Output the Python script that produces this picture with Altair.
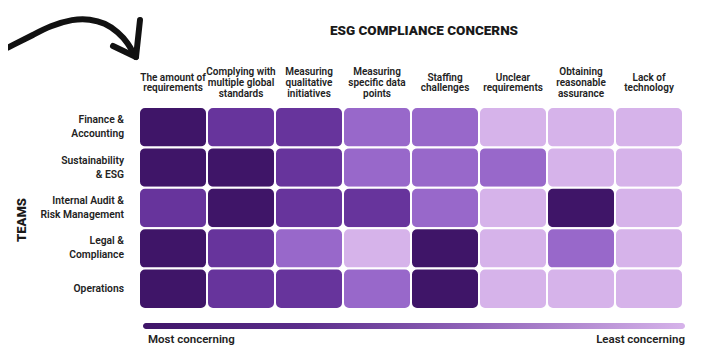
import altair as alt
import pandas as pd

title_text = "ESG COMPLIANCE CONCERNS"
axis_title = "TEAMS"
legend_low = "Most concerning"
legend_high = "Least concerning"

concerns = [
    "The amount of\nrequirements",
    "Complying with\nmultiple global\nstandards",
    "Measuring\nqualitative\ninitiatives",
    "Measuring\nspecific data\npoints",
    "Staffing\nchallenges",
    "Unclear\nrequirements",
    "Obtaining\nreasonable\nassurance",
    "Lack of\ntechnology",
]
teams = [
    "Finance &\nAccounting",
    "Sustainability\n& ESG",
    "Internal Audit &\nRisk Management",
    "Legal &\nCompliance",
    "Operations",
]
# 1 = most concerning ... 4 = least concerning
finance = [1, 2, 2, 3, 3, 4, 4, 4]
sustainability = [1, 1, 2, 3, 3, 3, 4, 4]
internal_audit = [2, 1, 2, 2, 3, 4, 1, 4]
legal = [1, 2, 3, 4, 1, 4, 3, 4]
operations = [1, 2, 2, 3, 1, 4, 4, 4]
level_values = [1, 2, 3, 4]
level_colors = ["#3f1568", "#67349c", "#9868ca", "#d6b3ea"]

# decorative hand-drawn arrow (pixel path, relative to plot origin)
arrow_x = [-150, -124, -106, -89, -66, -49, -34, -21, -11, -4]
arrow_y = [-50, -63, -72, -81, -88, -88, -84, -75, -64, -51]
arrow_head_x = [1, -3, -26, -3]
arrow_head_y = [-87, -50, -61, -50]

rows = [finance, sustainability, internal_audit, legal, operations]
cells = pd.DataFrame(
    [{"team": t, "concern": c, "level": v}
     for t, r in zip(teams, rows) for c, v in zip(concerns, r)]
)

W, H = 544, 202
txt = "#222222"
font = "Roboto"

heat = alt.Chart(cells).mark_rect(cornerRadius=6, stroke="white", strokeWidth=2).encode(
    x=alt.X("concern:N", sort=concerns, axis=None,
            scale=alt.Scale(paddingInner=0, paddingOuter=0)),
    y=alt.Y("team:N", sort=teams, axis=None,
            scale=alt.Scale(paddingInner=0, paddingOuter=0)),
    color=alt.Color("level:O", scale=alt.Scale(domain=level_values, range=level_colors), legend=None),
)

col_df = pd.DataFrame({"concern": concerns, "n": [c.count("\n") + 1 for c in concerns]})
row_df = pd.DataFrame({"team": teams, "n": [t.count("\n") + 1 for t in teams]})


def col_layer(n, lh=10.8):
    return alt.Chart(col_df).transform_filter(alt.datum.n == n).mark_text(
        align="center", baseline="middle", lineBreak="\n", font=font, fontSize=10,
        fontWeight=600, lineHeight=lh, color=txt, dy=-(n - 1) * lh / 2
    ).encode(
        x=alt.X("concern:N", sort=concerns, axis=None),
        y=alt.value(-24),
        text="concern:N",
    )


def row_layer(n, lh=14):
    return alt.Chart(row_df).transform_filter(alt.datum.n == n).mark_text(
        align="right", baseline="middle", lineBreak="\n", font=font, fontSize=10.3,
        fontWeight=600, lineHeight=lh, color=txt, dy=-(n - 1) * lh / 2
    ).encode(
        y=alt.Y("team:N", sort=teams, axis=None),
        x=alt.value(-15),
        text="team:N",
    )


title = alt.Chart(pd.DataFrame({"t": [title_text]})).mark_text(
    align="center", baseline="middle", font=font, fontSize=13.5, fontWeight=900, color="#1a1a1a"
).encode(x=alt.value(285), y=alt.value(-76), text="t:N")

teams_title = alt.Chart(pd.DataFrame({"t": [axis_title]})).mark_text(
    align="center", baseline="middle", font=font, fontSize=13, fontWeight=900, color="#1a1a1a", angle=270
).encode(x=alt.value(-117), y=alt.value(113), text="t:N")

grad = alt.Gradient(
    gradient="linear", x1=0, x2=1, y1=0, y2=0,
    stops=[alt.GradientStop(color=level_colors[0], offset=0),
           alt.GradientStop(color="#5c2e8c", offset=0.3),
           alt.GradientStop(color="#8f62b8", offset=0.6),
           alt.GradientStop(color=level_colors[3], offset=1)],
)
bar = alt.Chart(pd.DataFrame({"k": [0]})).mark_rect(cornerRadius=3, color=grad).encode(
    x=alt.value(4), x2=alt.value(546), y=alt.value(216), y2=alt.value(222)
)
low = alt.Chart(pd.DataFrame({"t": [legend_low]})).mark_text(
    align="left", baseline="middle", font=font, fontSize=11.5, fontWeight=600, color=txt
).encode(x=alt.value(9), y=alt.value(233), text="t:N")
high = alt.Chart(pd.DataFrame({"t": [legend_high]})).mark_text(
    align="right", baseline="middle", font=font, fontSize=11.5, fontWeight=600, color=txt
).encode(x=alt.value(546), y=alt.value(233), text="t:N")

arrow_df = pd.DataFrame(
    {"ax": arrow_x + arrow_head_x[:2] + arrow_head_x[2:],
     "ay": arrow_y + arrow_head_y[:2] + arrow_head_y[2:],
     "seg": ["curve"] * len(arrow_x) + ["arm1", "arm1", "arm2", "arm2"],
     "i": list(range(len(arrow_x))) + [0, 1, 0, 1]}
)
arrow = alt.Chart(arrow_df).mark_line(
    interpolate="basis", strokeWidth=6, strokeCap="round", strokeJoin="round", color="#111111"
).encode(
    x=alt.X("ax:Q", scale=None, axis=None),
    y=alt.Y("ay:Q", scale=None, axis=None),
    detail="seg:N",
    order="i:Q",
)

chart = alt.layer(
    heat, col_layer(2), col_layer(3), row_layer(1), row_layer(2),
    title, teams_title, bar, low, high, arrow
).properties(
    width=W, height=H,
    autosize=alt.AutoSizeParams(type="none"),
    padding={"left": 131, "top": 99, "right": 20, "bottom": 40},
).configure_view(stroke=None)

chart.save("out.html", embed_options={"renderer": "svg", "actions": False})
